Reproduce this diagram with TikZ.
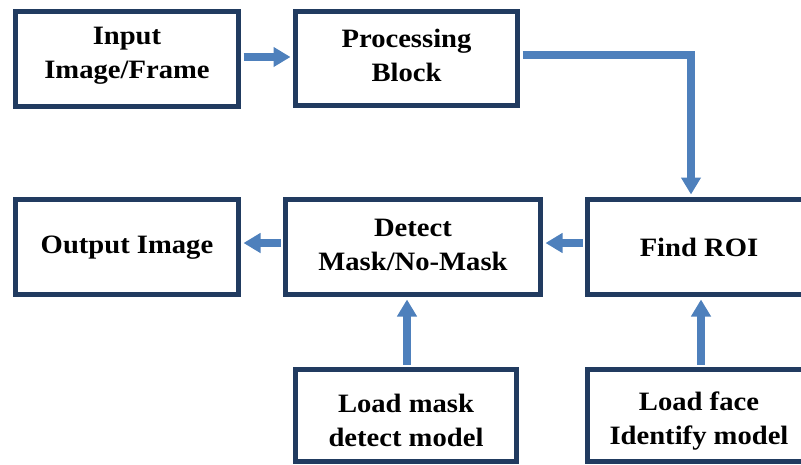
\documentclass[tikz,border=0pt]{standalone}
\usepackage{fontspec}
\setmainfont{Liberation Serif}[FakeStretch=1.08]
\usetikzlibrary{arrows.meta,calc}
\definecolor{boxcol}{RGB}{33,59,96}
\definecolor{arrcol}{RGB}{78,128,188}
\begin{document}
\begin{tikzpicture}[x=1pt,y=-1pt,
  box/.style={draw=boxcol,line width=5pt,line join=miter,inner sep=0pt,rectangle},
  txt/.style={align=center,inner sep=0pt,font=\fontsize{26.5pt}{34pt}\selectfont\bfseries},
  arr/.style={draw=arrcol,line width=7.5pt,line join=miter,-{Triangle[width=19pt,length=17pt]},shorten <=2.5pt,shorten >=2.5pt}]
\useasboundingbox (0,0) rectangle (801,464);
\clip (0,0) rectangle (801,464);
% boxes
\node[box,minimum width=223pt,minimum height=95pt] (inp) at (127,59) {};
\node[box,minimum width=222pt,minimum height=94pt] (proc) at (406.5,58.5) {};
\node[box,minimum width=223pt,minimum height=95pt] (out) at (127,247) {};
\node[box,minimum width=255pt,minimum height=95pt] (dect) at (413,247) {};
\node[box,minimum width=223pt,minimum height=95pt] (roi) at (699,247) {};
\node[box,minimum width=221pt,minimum height=92pt] (lmask) at (406,415.5) {};
\node[box,minimum width=223pt,minimum height=92pt] (lface) at (699,415.5) {};
% texts
\node[txt] (inpt) at (127,55.5) {Input\\Image/Frame};
\node[txt] (proct) at (406.5,55.5) {Processing\\Block};
\node[txt] (outt) at (127,248) {Output Image};
\node[txt] (dectt) at (413,245) {Detect\\Mask/No-Mask};
\node[txt] (roit) at (699,247) {Find ROI};
\node[txt] (lmaskt) at (406,420) {Load mask\\detect model};
\node[txt] (lfacet) at (699,421) {Load face\\Identify model};
% arrows
\draw[arr] ([yshift=2pt]inp.east) -- ([yshift=2pt]inp.east -| proc.west);
\draw[arr] ([yshift=3.5pt]proc.east) -| ([xshift=-8pt]roi.north);
\draw[arr] ([yshift=4pt]roi.west) -- ([yshift=4pt]roi.west -| dect.east);
\draw[arr] ([yshift=4pt]dect.west) -- ([yshift=4pt]dect.west -| out.east);
\draw[arr] ([xshift=1pt]lmask.north) -- ([xshift=1pt]lmask.north |- dect.south);
\draw[arr] ([xshift=2pt]lface.north) -- ([xshift=2pt]lface.north |- roi.south);
\end{tikzpicture}
\end{document}
